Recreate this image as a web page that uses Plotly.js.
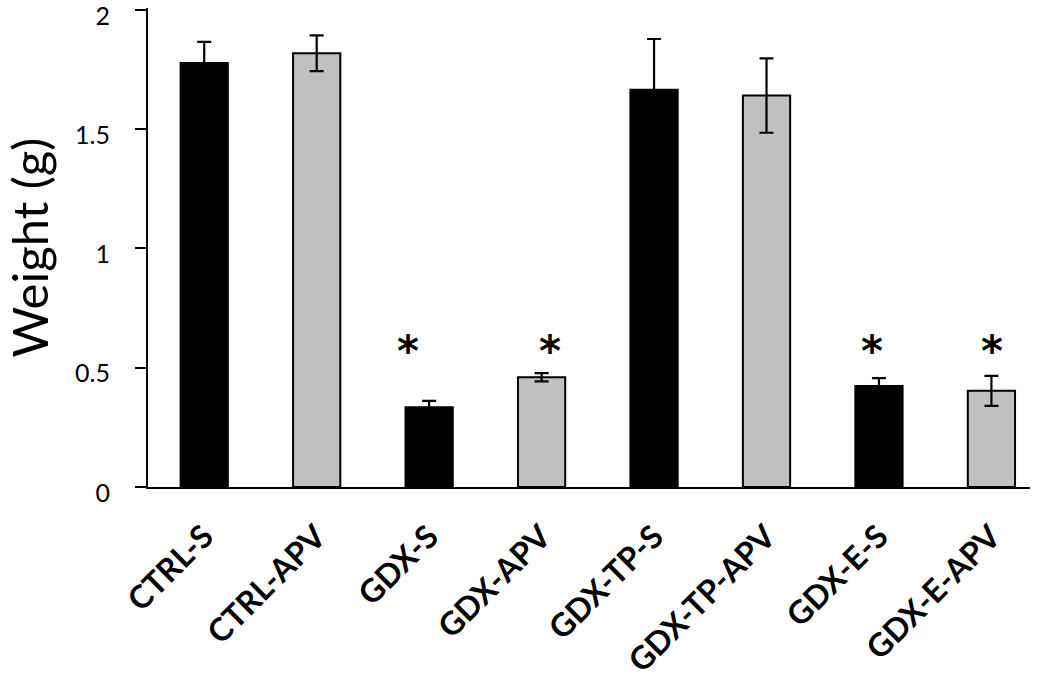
<!DOCTYPE html>
<html>
<head>
<meta charset="utf-8">
<script src="https://cdn.plot.ly/plotly-3.0.1.min.js"></script>
<style>html,body{margin:0;padding:0;background:#fff;}#chart{width:1050px;height:683px;}</style>
</head>
<body>
<div id="chart"></div>
<script>
const categories = ["CTRL-S","CTRL-APV","GDX-S","GDX-APV","GDX-TP-S","GDX-TP-APV","GDX-E-S","GDX-E-APV"];
const weights = [1.777, 1.818, 0.334, 0.460, 1.665, 1.641, 0.423, 0.403];
const errors = [0.089, 0.075, 0.027, 0.017, 0.213, 0.156, 0.033, 0.063];
const group = ["S","APV","S","APV","S","APV","S","APV"];
const significant = [false, false, true, true, false, false, true, true];
const starLevel = 0.59;
const yTicks = [0, 0.5, 1, 1.5, 2];
const yTickLabels = ["0","0.5","1","1.5","2"];

const fills = group.map(g => g === "S" ? "#000000" : "#c0c0c0");

const trace = {
  type: "bar",
  x: categories,
  y: weights,
  width: 0.42,
  marker: {color: fills, line: {color: "#000000", width: 2}},
  error_y: {type: "data", array: errors, visible: true, color: "#000000", thickness: 2.2, width: 7},
  hoverinfo: "x+y",
  showlegend: false
};

// hand-placed star nudges (pixels), as in the original figure
const starNudge = {"GDX-S": -21, "GDX-APV": 8, "GDX-E-S": -7, "GDX-E-APV": 1};
const annotations = [];
categories.forEach((c, i) => {
  if (significant[i]) {
    annotations.push({x: c, y: starLevel, xref: "x", yref: "y", text: "*", showarrow: false,
      font: {family: "DejaVu Sans", size: 42, color: "#000", weight: "bold"},
      yanchor: "middle", yshift: -5, xshift: starNudge[c] || 0});
  }
});

const layout = {
  width: 1050, height: 683,
  margin: {l: 148, r: 20, t: 8, b: 196},
  paper_bgcolor: "#ffffff", plot_bgcolor: "#ffffff",
  font: {family: "Lato, 'Open Sans', sans-serif", color: "#000"},
  xaxis: {
    type: "category",
    range: [-0.5, 7.343],
    showline: true, linecolor: "#000", linewidth: 2,
    ticks: "", showgrid: false, zeroline: false,
    tickangle: -45,
    tickfont: {family: "Lato, 'Open Sans', sans-serif", size: 32, color: "#000", weight: "bold"},
    ticklabelstandoff: 16
  },
  yaxis: {
    range: [0, 2.008],
    tickvals: yTicks, ticktext: yTickLabels,
    showline: true, linecolor: "#000", linewidth: 2,
    ticks: "outside", ticklen: 11, tickwidth: 2, tickcolor: "#000",
    showgrid: false, zeroline: false,
    tickfont: {family: "Lato, 'Open Sans', sans-serif", size: 25, color: "#000"},
    ticklabelstandoff: 20,
    ticklabelshift: 6,
    ticklabeloverflow: "allow",
    title: {text: "Weight (g)", font: {family: "Lato, 'Open Sans', sans-serif", size: 49, color: "#000"}, standoff: 14}
  },
  annotations: annotations
};

Plotly.newPlot("chart", [trace], layout, {displayModeBar: false, staticPlot: true});
</script>
</body>
</html>
